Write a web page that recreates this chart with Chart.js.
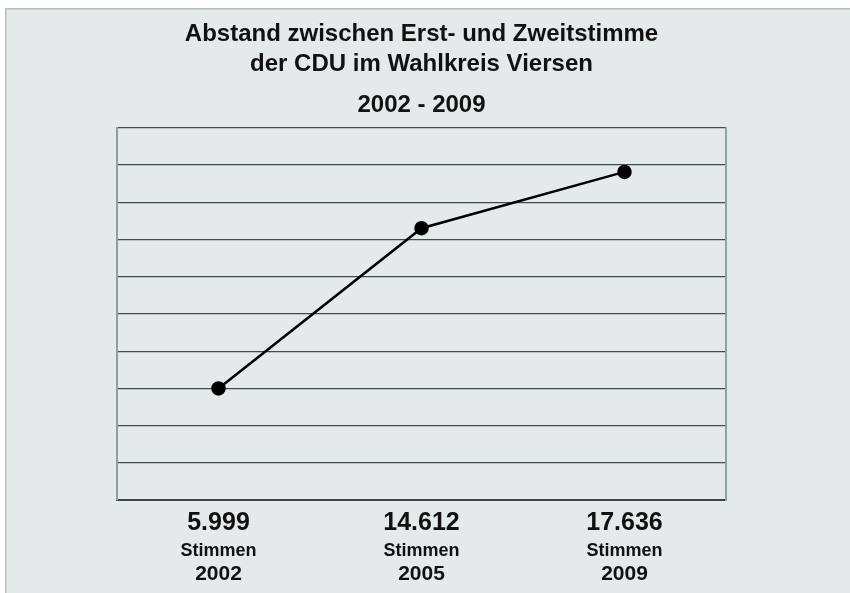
<!DOCTYPE html>
<html>
<head>
<meta charset="utf-8">
<script src="https://cdn.jsdelivr.net/npm/chart.js@4.4.1/dist/chart.umd.min.js"></script>
<style>
html,body{margin:0;padding:0;background:#ffffff;}
#wrap{position:absolute;left:0;top:0;width:850px;height:593px;}
</style>
</head>
<body>
<div id="wrap"><canvas id="c" width="850" height="593"></canvas></div>
<script>
// Data
const years = ['2002', '2005', '2009'];
const differenceVotes = [5999, 14612, 17636];
const valueLabels = ['5.999', '14.612', '17.636'];
const unitLabels = ['Stimmen', 'Stimmen', 'Stimmen'];
const titleLines = ['Abstand zwischen Erst- und Zweitstimme', 'der CDU im Wahlkreis Viersen'];
const subtitleText = '2002 - 2009';

const FONT = "'Liberation Sans', Arial, sans-serif";

const bgPlugin = {
  id: 'bg',
  beforeDraw(chart) {
    const ctx = chart.ctx;
    ctx.save();
    ctx.fillStyle = '#ffffff';
    ctx.fillRect(0, 0, chart.width, chart.height);
    ctx.fillStyle = '#e4eaea';
    ctx.fillRect(5, 8, chart.width - 5, chart.height - 8);
    ctx.fillStyle = '#b3c0c0';
    ctx.fillRect(5, 8, chart.width - 5, 1.5);
    ctx.fillRect(5, 8, 1.5, chart.height - 8);
    ctx.restore();
  }
};

new Chart(document.getElementById('c'), {
  type: 'line',
  data: {
    labels: valueLabels,
    datasets: [{
      data: differenceVotes,
      borderColor: '#000000',
      backgroundColor: '#000000',
      borderWidth: 2.5,
      pointRadius: 6,
      pointHoverRadius: 6,
      pointBackgroundColor: '#000000',
      pointBorderColor: '#000000',
      tension: 0,
      xAxisID: 'x',
      yAxisID: 'y'
    }]
  },
  options: {
    responsive: false,
    animation: false,
    devicePixelRatio: 1,
    layout: { padding: { left: 117, right: 124, top: 0, bottom: 8 } },
    plugins: {
      legend: { display: false },
      tooltip: { enabled: false },
      title: {
        display: true,
        text: titleLines,
        color: '#111111',
        font: { family: FONT, size: 24, weight: 'bold', lineHeight: 1.27 },
        padding: { top: 19, bottom: 4 }
      },
      subtitle: {
        display: true,
        text: subtitleText,
        color: '#111111',
        font: { family: FONT, size: 24, weight: 'bold', lineHeight: 1.27 },
        padding: { top: 6, bottom: 7.5 }
      }
    },
    scales: {
      x: {
        type: 'category',
        position: 'bottom',
        weight: 0,
        offset: true,
        labels: valueLabels,
        grid: { display: false, drawTicks: true, tickLength: 11 },
        border: { display: true, color: '#3f4545', width: 2 },
        ticks: { color: '#111111', font: { family: FONT, size: 25, weight: 'bold', lineHeight: 1.0 }, padding: 0, maxRotation: 0, autoSkip: false }
      },
      x2: {
        type: 'category',
        position: 'bottom',
        weight: 1,
        offset: true,
        labels: unitLabels,
        grid: { display: false, drawTicks: true, tickLength: 6 },
        border: { display: false },
        ticks: { color: '#111111', font: { family: FONT, size: 18, weight: 'bold', lineHeight: 1.0 }, padding: 0, maxRotation: 0, autoSkip: false }
      },
      x3: {
        type: 'category',
        position: 'bottom',
        weight: 2,
        offset: true,
        labels: years,
        grid: { display: false, drawTicks: true, tickLength: 4 },
        border: { display: false },
        ticks: { color: '#111111', font: { family: FONT, size: 21, weight: 'bold', lineHeight: 1.0 }, padding: 0, maxRotation: 0, autoSkip: false }
      },
      y: {
        position: 'left',
        min: 0,
        max: 20000,
        ticks: { display: false, stepSize: 2000 },
        grid: { display: true, color: '#434b4b', lineWidth: 1.3, drawTicks: false },
        border: { display: true, color: '#8fa0a0', width: 2 }
      },
      y2: {
        position: 'right',
        min: 0,
        max: 20000,
        ticks: { display: false },
        grid: { display: false, drawTicks: false },
        border: { display: true, color: '#8fa0a0', width: 2 }
      }
    }
  },
  plugins: [bgPlugin]
});
</script>
</body>
</html>
